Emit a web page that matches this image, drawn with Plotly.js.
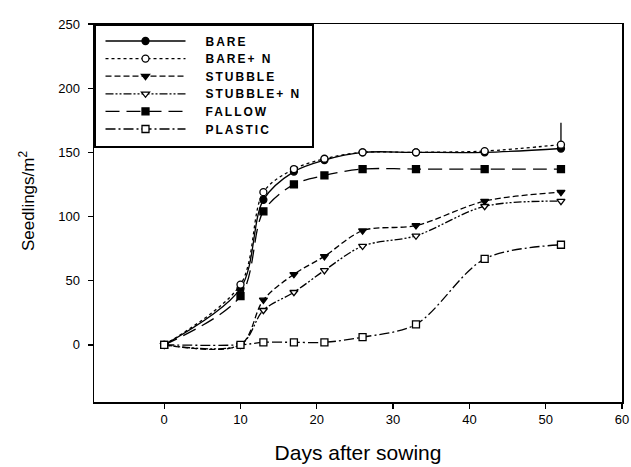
<!DOCTYPE html>
<html>
<head>
<meta charset="utf-8">
<script src="https://cdn.plot.ly/plotly-3.0.1.min.js"></script>
<style>
  html, body { margin: 0; padding: 0; background: #fff; }
  #chart { width: 631px; height: 467px; }
</style>
</head>
<body>
<div id="chart"></div>
<script>
// ---- data ----
var days = [0, 10, 13, 17, 21, 26, 33, 42, 52];
var seriesNames = ["BARE", "BARE+ N", "STUBBLE", "STUBBLE+ N", "FALLOW", "PLASTIC"];
var bare      = [0, 44, 113, 135, 144, 150, 150, 150, 153];
var bareN     = [0, 47, 119, 137, 145, 150, 150, 151, 156];
var stubble   = [0, 0, 35, 55, 69, 89, 93, 112, 119];
var stubbleN  = [0, 0, 27, 41, 58, 77, 85, 108, 112];
var fallow    = [0, 38, 104, 125, 132, 137, 137, 137, 137];
var plastic   = [0, 0, 2, 2, 2, 6, 16, 67, 78];
var bareNErrPlus = [0, 0, 0, 0, 0, 0, 0, 0, 17];
var xTickVals = [0, 10, 20, 30, 40, 50, 60];
var yTickVals = [0, 50, 100, 150, 200, 250];

var values = [bare, bareN, stubble, stubbleN, fallow, plastic];
var symbols = ["circle", "circle", "triangle-down", "triangle-down", "square", "square"];
var fills = ["black", "white", "black", "white", "black", "white"];
var dashes = ["solid", "dot", "6px,3px", "8px,2px,2px,2px,2px,2px", "14px,7px", "10px,3px,2px,3px"];

var traces = values.map(function (v, i) {
  var t = {
    x: days, y: v, name: seriesNames[i],
    type: "scatter", mode: "lines+markers",
    line: { color: "black", width: 1.3, dash: dashes[i], shape: "spline", smoothing: 0.9 },
    marker: { symbol: symbols[i], size: 7, color: fills[i],
              line: { color: "black", width: 1.3 } }
  };
  if (i === 1) {
    t.error_y = { type: "data", symmetric: false, array: bareNErrPlus,
                  arrayminus: days.map(function () { return 0; }),
                  color: "black", thickness: 1.3, width: 0 };
  }
  return t;
});

var font = "Liberation Sans, Arial, sans-serif";
var layout = {
  width: 631, height: 467,
  margin: { l: 94, r: 9, t: 24, b: 65 },
  paper_bgcolor: "white", plot_bgcolor: "white",
  showlegend: true,
  legend: {
    x: 0.0, y: 1, xanchor: "left", yanchor: "top",
    bgcolor: "white", bordercolor: "black", borderwidth: 1.5,
    font: { family: font, size: 12, color: "black", weight: "bold" },
    itemwidth: 100, tracegroupgap: 0
  },
  xaxis: {
    range: [-9.2, 60], tickvals: xTickVals, ticks: "outside", ticklen: 5, tickwidth: 1.3,
    tickcolor: "black", showline: true, linecolor: "black", linewidth: 1.5, mirror: true,
    showgrid: false, zeroline: false,
    tickfont: { family: font, size: 13, color: "black" },
    title: { text: "Days after sowing", font: { family: font, size: 21, color: "black" }, standoff: 19 }
  },
  yaxis: {
    range: [-44.5, 250], tickvals: yTickVals, ticks: "outside", ticklen: 5, tickwidth: 1.3,
    tickcolor: "black", showline: true, linecolor: "black", linewidth: 1.5, mirror: true,
    showgrid: false, zeroline: false, ticklabelstandoff: 5,
    tickfont: { family: font, size: 13, color: "black" }
  },
  annotations: [{
    text: "Seedlings/m<sup>2</sup>", textangle: -90, showarrow: false,
    xref: "paper", yref: "paper", x: -0.127, y: 0.534, xanchor: "center", yanchor: "middle",
    font: { family: font, size: 17, color: "black" }
  }]
};

Plotly.newPlot("chart", traces, layout, { displayModeBar: false, staticPlot: true }).then(function (gd) {
  // restyle the legend to the reference look: long line samples, spaced letters, tighter rows
  var sb = gd.querySelector(".legend .scrollbox");
  if (sb) sb.removeAttribute("clip-path");
  var items = gd.querySelectorAll(".legend .traces");
  var y0 = null;
  items.forEach(function (it, i) {
    var p = it.querySelector(".legendlines path");
    if (p) p.setAttribute("d", "M10,0h80");
    it.querySelectorAll(".legendpoints path").forEach(function (q) {
      q.setAttribute("transform", "translate(50,0)");
    });
    var txt = it.querySelector("text.legendtext");
    if (txt) txt.setAttribute("letter-spacing", "2");
    var tr = it.getAttribute("transform") || "";
    var m = tr.match(/translate\(\s*([-\d.]+)[ ,]+([-\d.]+)\s*\)/);
    if (m) {
      if (y0 === null) y0 = parseFloat(m[2]) + 1;
      it.setAttribute("transform", "translate(" + m[1] + "," + (y0 + i * 17.6) + ")");
    }
  });
  var bg = gd.querySelector(".legend rect.bg");
  if (bg) { bg.setAttribute("width", "218"); bg.setAttribute("height", "122"); }
});
</script>
</body>
</html>
